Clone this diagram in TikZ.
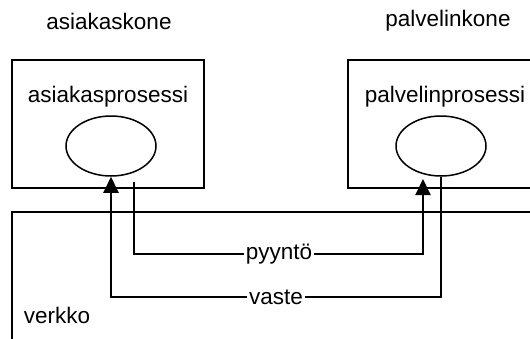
\documentclass[tikz,border=0pt]{standalone}
\usepackage{fontspec}
\setmainfont{Liberation Sans}
\usetikzlibrary{arrows.meta,shapes.geometric}

\tikzset{
  lbl/.style={font=\fontsize{22.5}{27}\selectfont, inner sep=0pt},
  machine/.style={draw, line width=2pt, minimum width=192pt, minimum height=128pt, inner sep=0pt},
  proc/.style={draw, ellipse, line width=1.5pt, minimum width=90pt, minimum height=60pt, inner sep=0pt},
  wire/.style={line width=2pt},
  msg/.style={lbl, fill=white, inner xsep=2pt, inner ysep=1pt},
  tip/.style={-{Triangle[length=16pt,width=15pt]}}
}

\begin{document}
\begin{tikzpicture}[x=1pt,y=-1pt]
  \clip (0,0) rectangle (530,338);
  \fill[white] (0,0) rectangle (530,338);

  % machine titles
  \node[lbl] (clientname) at (109,21) {asiakaskone};
  \node[lbl] (servername) at (448,21) {palvelinkone};

  % machines
  \node[machine] (client) at (108,124) {};
  \node[machine] (server) at (444,124) {};

  \node[lbl] (clientproc) at (108,97) {asiakasprosessi};
  \node[lbl] (serverproc) at (445,97) {palvelinprosessi};

  % processes
  \node[proc] (cp) at (111,146) {};
  \node[proc] (sp) at (441,146) {};

  % network
  \coordinate (netA) at (12,345);
  \coordinate (netB) at (12,212);
  \coordinate (netC) at (540,212);
  \draw[wire] (netA) -- (netB) -- (netC);
  \node[lbl] (net) at (57,315) {verkko};

  % request
  \coordinate (reqfrom) at (134,182);
  \coordinate (reqto) at (423,179);
  \node[msg] (req) at (279,254) {pyyntö};
  \draw[wire] (reqfrom) |- (req.west);
  \draw[wire,tip] (req.east) -| (reqto);

  % response
  \node[msg] (resp) at (276,297) {vaste};
  \draw[wire] (sp.south) |- (resp.east);
  \draw[wire,tip] (resp.west) -| (cp.south);
\end{tikzpicture}
\end{document}
